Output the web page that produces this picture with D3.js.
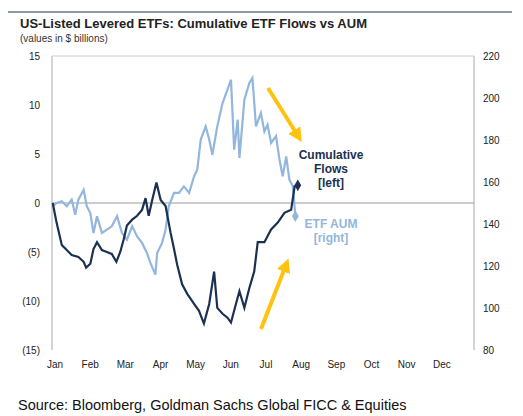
<!DOCTYPE html>
<html><head><meta charset="utf-8">
<script src="https://cdn.jsdelivr.net/npm/d3@7"></script>
<style>body{margin:0;background:#fff;font-family:Arial,"Liberation Sans",sans-serif}</style>
</head><body><div id="chart"></div>
<script>
// months since Jan 1 for each sample
const flowMonths = [0.02,0.13,0.28,0.42,0.56,0.75,0.90,0.97,1.09,1.18,1.28,1.42,1.56,1.70,1.83,1.94,2.04,2.13,2.28,2.42,2.56,2.66,2.75,2.85,2.97,3.09,3.23,3.37,3.47,3.56,3.70,3.85,4.04,4.18,4.32,4.47,4.61,4.70,4.85,4.99,5.09,5.23,5.33,5.47,5.61,5.75,5.85,6.04,6.23,6.42,6.61,6.80,6.90,6.99];
const flowValues = [0,-2,-4.3,-4.8,-5.3,-5.5,-6,-6.6,-6.2,-4.7,-4,-4.8,-5,-5.2,-6,-5,-3.7,-2.3,-1.7,-1.3,-0.7,0.5,-1.3,0.3,2.1,0.3,-0.3,-3,-4.7,-6.3,-8.3,-9.3,-10.3,-11,-12.3,-10.3,-7,-10.7,-11.3,-11.7,-12.2,-10.3,-9,-10.7,-8.7,-7,-4,-4,-2.7,-2,-1,-0.7,1.7,1.8];
const aumMonths = [0.02,0.13,0.28,0.42,0.56,0.66,0.75,0.90,0.99,1.09,1.18,1.28,1.42,1.56,1.70,1.85,1.99,2.13,2.28,2.42,2.56,2.70,2.80,2.94,2.99,3.13,3.23,3.32,3.47,3.61,3.75,3.90,4.04,4.13,4.23,4.37,4.47,4.56,4.70,4.85,4.99,5.09,5.18,5.28,5.33,5.47,5.61,5.70,5.80,5.94,6.04,6.13,6.23,6.37,6.47,6.56,6.66,6.75,6.85,6.92];
const aumValues = [148.4,150,150.8,148.4,151.6,144.4,151.6,156.3,148.4,145.2,135.7,143.7,135.7,137.3,138.9,143.7,135.7,132.5,138.9,134.1,131,126.2,121.4,115.9,126.2,131,137.3,148.4,154.8,154.8,157.9,154.8,162.7,165.9,180.2,186.5,180.2,173,186.5,197.6,204,208.7,175.4,189.7,171.4,199.2,207,209.5,186.5,192.8,184.1,187.3,178.6,181.9,170.6,162.7,172.2,161.1,157.9,143.7];
const monthLabels = ["Jan","Feb","Mar","Apr","May","Jun","Jul","Aug","Sep","Oct","Nov","Dec"];
const leftTicks = [15,10,5,0,-5,-10,-15];
const rightTicks = [220,200,180,160,140,120,100,80];

const W = 523, H = 416;
const m = {l: 52, r: 474, t: 56, b: 350};
const dark = "#1b3152", light = "#93b6dc", gold = "#ffc20e";

const svg = d3.select("#chart").append("svg").attr("width", W).attr("height", H);
const x = d3.scaleLinear().domain([0, 12]).range([m.l, m.r]);
const yL = d3.scaleLinear().domain([-15, 15]).range([m.b, m.t]);
const yR = d3.scaleLinear().domain([80, 220]).range([m.b, m.t]);

svg.append("line").attr("x1", 8).attr("x2", 512).attr("y1", 12).attr("y2", 12)
    .attr("stroke", "#8c99a8").attr("stroke-width", 2);
svg.append("text").attr("x", 20).attr("y", 28).attr("font-size", 13).attr("font-weight", "bold")
    .attr("fill", "#222").text("US-Listed Levered ETFs: Cumulative ETF Flows vs AUM");
svg.append("text").attr("x", 20).attr("y", 42).attr("font-size", 10).attr("fill", "#333")
    .text("(values in $ billions)");

// frame
svg.append("line").attr("x1", m.l).attr("x2", m.l).attr("y1", m.t).attr("y2", m.b).attr("stroke", "#aaa");
svg.append("line").attr("x1", m.r).attr("x2", m.r).attr("y1", m.t).attr("y2", m.b).attr("stroke", "#aaa");
svg.append("line").attr("x1", m.l).attr("x2", m.r).attr("y1", m.t).attr("y2", m.t).attr("stroke", "#ccc");
svg.append("line").attr("x1", m.l).attr("x2", m.r).attr("y1", yL(0)).attr("y2", yL(0)).attr("stroke", "#999");

const fmtL = d => d < 0 ? `(${-d})` : d;
svg.append("g").selectAll("text").data(leftTicks).join("text")
    .attr("x", 40).attr("y", d => yL(d) + 4).attr("text-anchor", "end")
    .attr("font-size", 10).attr("fill", "#222").text(fmtL);
svg.append("g").selectAll("text").data(rightTicks).join("text")
    .attr("x", 483).attr("y", d => yR(d) + 4)
    .attr("font-size", 10).attr("fill", "#222").text(d => d);
svg.append("g").selectAll("text").data(monthLabels).join("text")
    .attr("x", (d, i) => x(i) + 3).attr("y", 368).attr("text-anchor", "middle")
    .attr("font-size", 10).attr("fill", "#222").text(d => d);

const aum = aumMonths.map((d, i) => [d, aumValues[i]]);
const flows = flowMonths.map((d, i) => [d, flowValues[i]]);
svg.append("path").datum(aum).attr("fill", "none").attr("stroke", light).attr("stroke-width", 2.2)
    .attr("d", d3.line().x(d => x(d[0])).y(d => yR(d[1])));
svg.append("path").datum(flows).attr("fill", "none").attr("stroke", dark).attr("stroke-width", 2.2)
    .attr("d", d3.line().x(d => x(d[0])).y(d => yL(d[1])));

const lastA = aum[aum.length - 1], lastF = flows[flows.length - 1];
svg.append("path").attr("d", d3.symbol(d3.symbolDiamond, 40)())
    .attr("transform", `translate(${x(lastA[0])},${yR(lastA[1])})`).attr("fill", light);
svg.append("path").attr("d", d3.symbol(d3.symbolDiamond, 40)())
    .attr("transform", `translate(${x(lastF[0])},${yL(lastF[1])})`).attr("fill", dark);

const lbl = (lines, y0, col) => lines.forEach((t, i) =>
    svg.append("text").attr("x", 331).attr("y", y0 + i * 14).attr("text-anchor", "middle")
        .attr("font-size", 12).attr("font-weight", "bold").attr("fill", col).text(t));
lbl(["Cumulative", "Flows", "[left]"], 159, dark);
lbl(["ETF AUM", "[right]"], 228, light);

// arrows
const defs = svg.append("defs");
defs.append("marker").attr("id", "ah").attr("viewBox", "0 0 10 10").attr("refX", 5).attr("refY", 5)
    .attr("markerWidth", 3.5).attr("markerHeight", 3.5).attr("orient", "auto")
    .append("path").attr("d", "M0,0L10,5L0,10z").attr("fill", gold);
svg.append("line").attr("x1", 268).attr("y1", 88).attr("x2", 298).attr("y2", 136)
    .attr("stroke", gold).attr("stroke-width", 4).attr("marker-end", "url(#ah)");
svg.append("line").attr("x1", 261).attr("y1", 329).attr("x2", 286).attr("y2", 265)
    .attr("stroke", gold).attr("stroke-width", 4).attr("marker-end", "url(#ah)");

svg.append("text").attr("x", 18).attr("y", 410).attr("font-size", 14.5).attr("fill", "#111")
    .text("Source: Bloomberg, Goldman Sachs Global FICC & Equities");
</script></body></html>
